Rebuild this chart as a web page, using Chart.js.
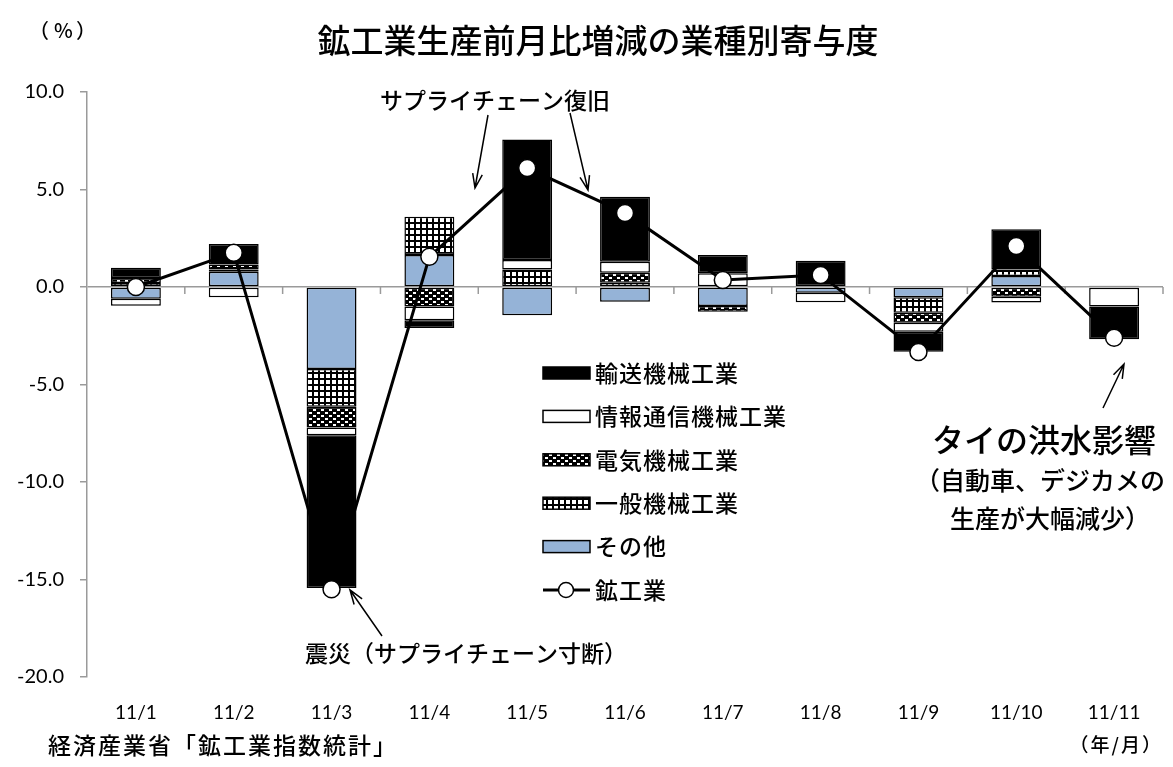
<!DOCTYPE html>
<html lang="ja">
<head>
<meta charset="utf-8">
<title>鉱工業生産前月比増減の業種別寄与度</title>
<script src="https://cdn.jsdelivr.net/npm/chart.js@4.4.1/dist/chart.umd.min.js"></script>
<style>
  html, body { margin: 0; padding: 0; background: #fff; }
  #wrap { width: 1173px; height: 767px; }
</style>
</head>
<body>
<div id="wrap"><canvas id="myChart" width="1173" height="767"></canvas></div>
<script>
const months = ['11/1', '11/2', '11/3', '11/4', '11/5', '11/6', '11/7', '11/8', '11/9', '11/10', '11/11'];

// contributions by industry (% points)
const sonota = [-0.60, 0.78, -4.20, 1.64, -1.45, -0.75, -0.97, -0.29, -0.53, 0.56, 0.07];
const ippan  = [0.20, 0.12, -1.94, 1.96, 0.90, 0.22, 0, 0.05, -0.79, 0.34, 0];
const denki  = [0.26, 0.26, -1.06, -1.00, 0, 0.51, -0.30, 0, -0.51, -0.50, 0];
const jouhou = [-0.36, -0.53, -0.40, -0.70, 0.48, 0.57, 0.70, -0.49, -0.46, -0.30, -1.00];
const yusou  = [0.53, 1.04, -7.83, -0.40, 6.19, 3.33, 0.94, 1.30, -1.03, 2.06, -1.68];
// mining and manufacturing total
const koukougyou = [0.0, 1.76, -15.5, 1.55, 6.1, 3.8, 0.36, 0.62, -3.33, 2.1, -2.6];

const JP = '"Noto Sans CJK JP", "Noto Sans", sans-serif';
const NUM = 'Lato, "Liberation Sans", sans-serif';

function makePattern(w, h, draw) {
    const c = document.createElement('canvas');
    c.width = w; c.height = h;
    const g = c.getContext('2d');
    draw(g);
    return g.createPattern(c, 'repeat');
}
const gridPattern = makePattern(6, 6, g => {
    g.fillStyle = '#fff'; g.fillRect(0, 0, 6, 6);
    g.fillStyle = '#000'; g.fillRect(0, 0, 6, 2); g.fillRect(0, 0, 2, 6);
});
// black with small white blocks, checkered rows
const checkPattern = makePattern(8, 6, g => {
    g.fillStyle = '#000'; g.fillRect(0, 0, 8, 6);
    g.fillStyle = '#fff';
    g.fillRect(1, 1, 3, 2); g.fillRect(5, 4, 3, 2);
});

function arrow(ctx, x1, y1, x2, y2) {
    const a = Math.atan2(y2 - y1, x2 - x1);
    const h = 15;
    ctx.beginPath();
    ctx.moveTo(x1, y1); ctx.lineTo(x2, y2);
    ctx.moveTo(x2 - h * Math.cos(a - 0.33), y2 - h * Math.sin(a - 0.33));
    ctx.lineTo(x2, y2);
    ctx.lineTo(x2 - h * Math.cos(a + 0.33), y2 - h * Math.sin(a + 0.33));
    ctx.stroke();
}

// tick marks on the zero line between categories
const zeroTicks = {
    id: 'zeroTicks',
    beforeDatasetsDraw(chart) {
        const ctx = chart.ctx, x = chart.scales.x, y = chart.scales.y;
        const y0 = y.getPixelForValue(0);
        const half = (x.getPixelForValue(1) - x.getPixelForValue(0)) / 2;
        ctx.save();
        ctx.strokeStyle = '#9a9a9a';
        ctx.lineWidth = 1.5;
        for (let i = 0; i < months.length; i++) {
            const px = x.getPixelForValue(i) + half;
            ctx.beginPath(); ctx.moveTo(px, y0); ctx.lineTo(px, y0 + 7); ctx.stroke();
        }
        ctx.restore();
    }
};

const legendItems = [
    { label: '輸送機械工業', fill: '#000' },
    { label: '情報通信機械工業', fill: '#fff' },
    { label: '電気機械工業', fill: checkPattern },
    { label: '一般機械工業', fill: gridPattern },
    { label: 'その他', fill: '#95b3d7' },
    { label: '鉱工業', line: true }
];

const decorations = {
    id: 'decorations',
    afterDraw(chart) {
        const ctx = chart.ctx;
        ctx.save();
        ctx.fillStyle = '#000';
        ctx.textBaseline = 'middle';

        // title and units
        ctx.font = '500 33px ' + JP;
        ctx.textAlign = 'center';
        ctx.fillText('鉱工業生産前月比増減の業種別寄与度', 598, 40);
        ctx.font = '500 20px ' + JP;
        ctx.textAlign = 'left';
        ctx.fillText('（', 29, 30);
        ctx.fillText('%', 54, 30);
        ctx.fillText('）', 76, 30);
        ctx.letterSpacing = '2px';
        ctx.font = '500 23px ' + JP;
        ctx.fillText('経済産業省「鉱工業指数統計」', 48, 745);
        ctx.font = '500 19px ' + JP;
        ctx.textAlign = 'right';
        ctx.fillText('（年/月）', 1163, 745);

        // legend
        ctx.textAlign = 'left';
        ctx.letterSpacing = '1px';
        ctx.font = '500 23px ' + JP;
        legendItems.forEach((it, i) => {
            const cy = 373 + i * 43.4;
            if (it.line) {
                ctx.strokeStyle = '#000'; ctx.lineWidth = 3;
                ctx.beginPath(); ctx.moveTo(543, cy); ctx.lineTo(590, cy); ctx.stroke();
                ctx.beginPath(); ctx.arc(566, cy, 7.5, 0, Math.PI * 2);
                ctx.fillStyle = '#fff'; ctx.fill();
                ctx.lineWidth = 1.5; ctx.stroke();
            } else {
                ctx.fillStyle = it.fill;
                ctx.fillRect(543, cy - 6, 47, 12);
                ctx.strokeStyle = '#000'; ctx.lineWidth = 1.5;
                ctx.strokeRect(543, cy - 6, 47, 12);
            }
            ctx.fillStyle = '#000';
            ctx.fillText(it.label, 595, cy);
        });
        ctx.letterSpacing = '0px';

        // annotations
        ctx.font = '500 23px ' + JP;
        ctx.textAlign = 'center';
        ctx.fillText('サプライチェーン復旧', 495, 100);
        ctx.textAlign = 'left';
        ctx.fillText('震災（サプライチェーン寸断）', 305, 653);
        ctx.textAlign = 'center';
        ctx.font = '500 32px ' + JP;
        ctx.fillText('タイの洪水影響', 1044, 440);
        ctx.font = '500 25px ' + JP;
        ctx.fillText('（自動車、デジカメの', 1040, 480);
        ctx.fillText('生産が大幅減少）', 1050, 518);

        ctx.strokeStyle = '#000';
        ctx.lineWidth = 1.5;
        arrow(ctx, 488, 115, 475, 188);
        arrow(ctx, 570, 113, 588, 190);
        arrow(ctx, 382, 636, 350, 590);
        arrow(ctx, 1103, 408, 1124, 364);
        ctx.restore();
    }
};

const barBase = { type: 'bar', stack: 'parts', borderColor: '#000', borderWidth: 1.5, borderSkipped: false };

const myChart = new Chart(document.getElementById('myChart').getContext('2d'), {
    data: {
        labels: months,
        datasets: [
            {
                type: 'line', label: '鉱工業', data: koukougyou, stack: 'total',
                borderColor: '#000', borderWidth: 3, tension: 0,
                pointRadius: 8.5, pointBackgroundColor: '#fff', pointBorderColor: '#000', pointBorderWidth: 1.5
            },
            Object.assign({ label: 'その他', data: sonota, backgroundColor: '#95b3d7' }, barBase),
            Object.assign({ label: '一般機械工業', data: ippan, backgroundColor: gridPattern }, barBase),
            Object.assign({ label: '電気機械工業', data: denki, backgroundColor: checkPattern }, barBase),
            Object.assign({ label: '情報通信機械工業', data: jouhou, backgroundColor: '#fff' }, barBase),
            Object.assign({ label: '輸送機械工業', data: yusou, backgroundColor: '#000' }, barBase)
        ]
    },
    options: {
        responsive: false,
        animation: false,
        layout: { padding: { top: 92, right: 6, bottom: 0, left: 0 } },
        datasets: { bar: { categoryPercentage: 1, barPercentage: 0.51 } },
        plugins: { legend: { display: false }, tooltip: { enabled: false } },
        scales: {
            x: {
                stacked: true,
                grid: { display: false, drawTicks: false },
                border: { display: false },
                ticks: { color: '#000', font: { family: NUM, size: 19 }, padding: 24 },
                afterFit(scale) { scale.height = 90; }
            },
            y: {
                stacked: true,
                min: -20, max: 10,
                ticks: {
                    stepSize: 5, color: '#000', padding: 16,
                    font: { family: NUM, size: 20 },
                    callback: v => v.toFixed(1)
                },
                grid: {
                    color: c => (c.tick && c.tick.value === 0) ? '#9a9a9a' : 'rgba(0,0,0,0)',
                    lineWidth: 1.5,
                    tickColor: '#9a9a9a',
                    tickLength: 7
                },
                border: { color: '#9a9a9a', width: 1.5 },
                afterFit(scale) { scale.width = 87; }
            }
        }
    },
    plugins: [zeroTicks, decorations]
});
</script>
</body>
</html>
